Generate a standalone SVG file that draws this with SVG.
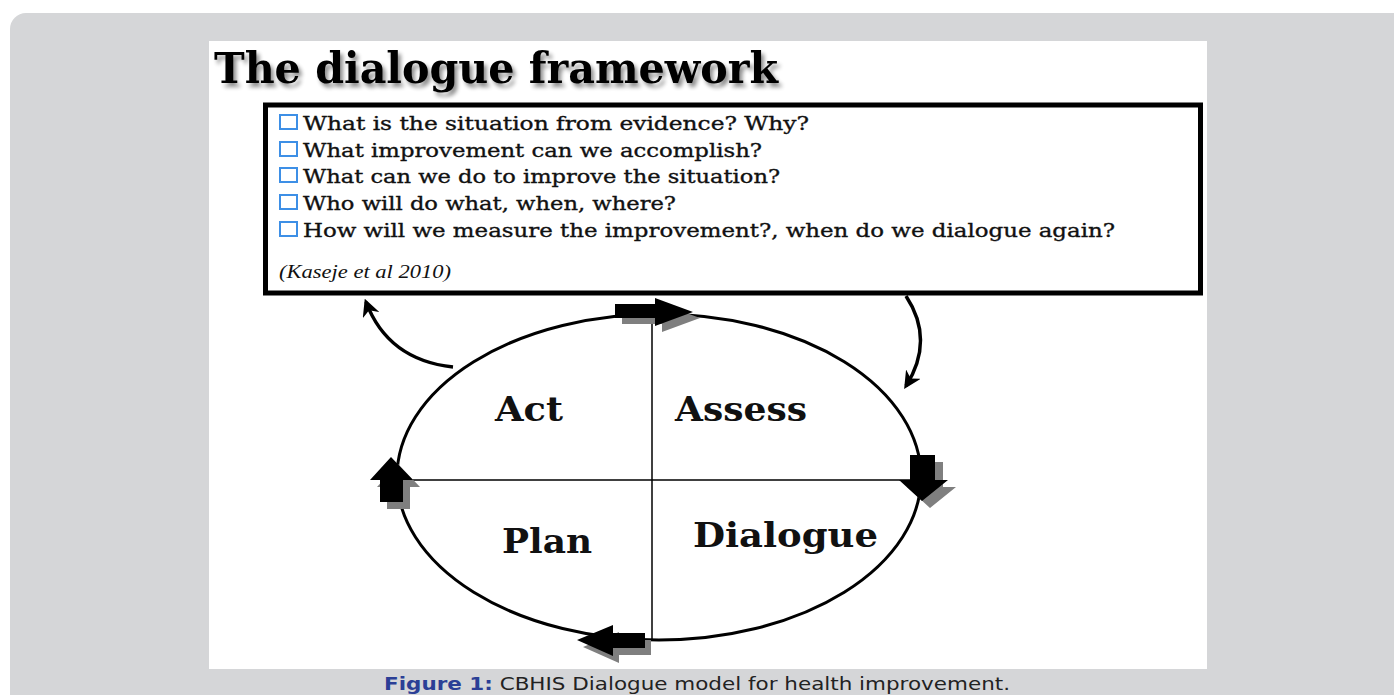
<svg xmlns="http://www.w3.org/2000/svg" width="1394" height="695" viewBox="0 0 1394 695">
<defs>
<style>
.q{font-family:"DejaVu Serif","Liberation Serif",serif;font-size:19px;fill:#111;stroke:#111;stroke-width:0.35px}
.lbl{font-family:"DejaVu Serif","Liberation Serif",serif;font-size:33px;font-weight:bold;fill:#111}
.cb{fill:#fff;stroke:#3d8fe6;stroke-width:2}
.blk{fill:#000}
.shd{fill:#7f7f7f}
.line{stroke:#000;fill:none}
</style>
<filter id="ts" x="-5%" y="-20%" width="110%" height="150%">
<feGaussianBlur in="SourceAlpha" stdDeviation="2"/>
<feOffset dx="3" dy="4" result="b"/>
<feComponentTransfer><feFuncA type="linear" slope="0.45"/></feComponentTransfer>
<feMerge><feMergeNode/><feMergeNode in="SourceGraphic"/></feMerge>
</filter>
<marker id="ah" viewBox="0 0 10 10" refX="8" refY="5" markerWidth="5" markerHeight="5" orient="auto-start-reverse">
<path d="M0,0 L10,5 L0,10 L3,5 z" fill="#000"/>
</marker>
</defs>
<rect width="1394" height="695" fill="#fff"/>
<rect x="10" y="13" width="1420" height="720" rx="16" fill="#d5d6d8"/>
<rect x="209" y="41" width="998" height="628" fill="#fff"/>

<g id="title">
<text x="214" y="83" font-family="DejaVu Serif, Liberation Serif, serif" font-size="42" font-weight="bold" fill="#000" filter="url(#ts)" textLength="564" lengthAdjust="spacingAndGlyphs">The dialogue framework</text>
</g>

<g id="questions">
<rect x="265.5" y="105" width="935" height="188" fill="#fff" stroke="#000" stroke-width="5"/>
<rect class="cb" x="280" y="115" width="17" height="14"/>
<rect class="cb" x="280" y="142" width="17" height="14"/>
<rect class="cb" x="280" y="168" width="17" height="14"/>
<rect class="cb" x="280" y="195" width="17" height="14"/>
<rect class="cb" x="280" y="222" width="17" height="14"/>
<text class="q" x="303" y="130" textLength="506" lengthAdjust="spacingAndGlyphs">What is the situation from evidence? Why?</text>
<text class="q" x="303" y="157" textLength="459" lengthAdjust="spacingAndGlyphs">What improvement can we accomplish?</text>
<text class="q" x="303" y="183" textLength="477" lengthAdjust="spacingAndGlyphs">What can we do to improve the situation?</text>
<text class="q" x="303" y="210" textLength="373" lengthAdjust="spacingAndGlyphs">Who will do what, when, where?</text>
<text class="q" x="303" y="237" textLength="812" lengthAdjust="spacingAndGlyphs">How will we measure the improvement?, when do we dialogue again?</text>
<text x="279" y="278" font-family="Liberation Serif, serif" font-size="19" font-style="italic" fill="#111" textLength="172" lengthAdjust="spacingAndGlyphs">(Kaseje et al 2010)</text>
</g>

<g id="cycle">
<ellipse cx="659" cy="477" rx="262" ry="163" class="line" stroke-width="3"/>
<line x1="652" y1="314" x2="652" y2="640" class="line" stroke-width="1.5"/>
<line x1="397" y1="480" x2="922" y2="480" class="line" stroke-width="1.5"/>
</g>

<g id="act"><text class="lbl" x="495" y="421" textLength="68" lengthAdjust="spacingAndGlyphs">Act</text></g>
<g id="assess"><text class="lbl" x="675" y="421" textLength="132" lengthAdjust="spacingAndGlyphs">Assess</text></g>
<g id="plan"><text class="lbl" x="502" y="553" textLength="90" lengthAdjust="spacingAndGlyphs">Plan</text></g>
<g id="dialogue"><text class="lbl" x="693" y="547" textLength="185" lengthAdjust="spacingAndGlyphs">Dialogue</text></g>

<g id="connectors">
<!-- top: right-pointing -->
<polygon class="shd" transform="translate(7,6)" points="615,304 655,304 655,298 693,312 655,326 655,318 615,318"/>
<polygon class="blk" points="615,304 655,304 655,298 693,312 655,326 655,318 615,318"/>
<!-- right: down-pointing -->
<polygon class="shd" transform="translate(8,7)" points="910,455 935,455 935,480 948,480 922,501 899,480 910,480"/>
<polygon class="blk" points="910,455 935,455 935,480 948,480 922,501 899,480 910,480"/>
<!-- bottom: left-pointing -->
<polygon class="shd" transform="translate(6,7)" points="645,633 645,648 613,648 613,656 577,640 613,625 613,633"/>
<polygon class="blk" points="645,633 645,648 613,648 613,656 577,640 613,625 613,633"/>
<!-- left: up-pointing -->
<polygon class="shd" transform="translate(7,7)" points="380,502 403,502 403,480 413,480 391,457 370,480 380,480"/>
<polygon class="blk" points="380,502 403,502 403,480 413,480 391,457 370,480 380,480"/>
<!-- curved arrows -->
<path d="M453,367 Q388,360 366,302" class="line" stroke-width="3.5" marker-end="url(#ah)"/>
<path d="M906,296 Q935,340 906,386" class="line" stroke-width="3.5" marker-end="url(#ah)"/>
</g>

<g id="caption">
<text x="384" y="690" font-family="DejaVu Sans, sans-serif" font-size="18" fill="#222" textLength="626" lengthAdjust="spacingAndGlyphs"><tspan font-weight="bold" fill="#2b3f96">Figure 1:</tspan> CBHIS Dialogue model for health improvement.</text>
</g>
</svg>
